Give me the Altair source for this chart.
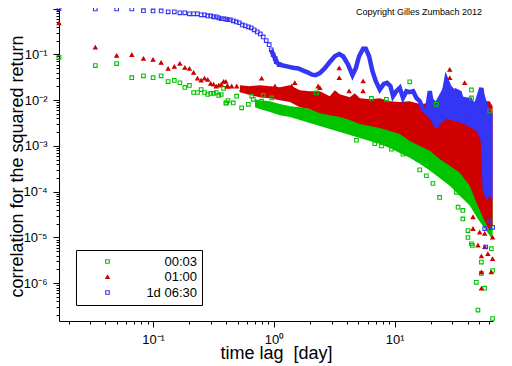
import altair as alt
import pandas as pd

SERIES = ["00:03", "01:00", "1d 06:30"]
COLORS = ["#00c400", "#d00000", "#3535f5"]
SHAPES = ["square", "triangle-up", "square"]
FILLS = ["transparent", "#c00000", "transparent"]

# lags (days) of the first, well separated points
early_lags = [0.01667, 0.0333, 0.05, 0.0667, 0.0833, 0.1, 0.1167, 0.1333, 0.15, 0.1667,
              0.1833, 0.2, 0.2167, 0.2333, 0.25, 0.2667, 0.2833, 0.3, 0.3167, 0.3333,
              0.35, 0.3667, 0.3833, 0.4, 0.4167]
green_early = [0.086, 0.057, 0.063, 0.031, 0.034, 0.031, 0.034, 0.0255, 0.027, 0.024,
               0.019, 0.021, 0.0147, 0.0147, 0.017, 0.0147, 0.0133, 0.014, 0.014, 0.0147,
               0.0127, 0.0133, 0.018, 0.0086, 0.0098]
red_early = [0.48, 0.142, 0.094, 0.098, 0.081, 0.077, 0.066, 0.049, 0.054, 0.063,
             0.051, 0.049, 0.040, 0.030, 0.027, 0.030, 0.028, 0.023, 0.022, 0.020,
             0.021, 0.022, 0.0255, 0.0255, 0.020]
blue_early = [1.0, 0.98, 0.98, 0.98, 0.90, 0.89, 0.89, 0.85, 0.85, 0.81,
              0.81, 0.77, 0.77, 0.77, 0.73, 0.73, 0.69, 0.69, 0.66, 0.66,
              0.63, 0.60, 0.60, 0.59, 0.57]
blue_more_lags = [0.436, 0.461, 0.488, 0.517, 0.547, 0.579, 0.614, 0.649, 0.687, 0.728,
                  0.771, 0.816, 0.864, 0.914, 0.951, 0.986, 1.025, 1.045, 1.106]
blue_more = [0.57, 0.54, 0.51, 0.49, 0.44, 0.42, 0.40, 0.38, 0.344, 0.31,
             0.28, 0.24, 0.20, 0.163, 0.126, 0.098, 0.081, 0.069, 0.060]

# isolated points outside the dense clouds
green_sc_lag = [0.406, 0.461, 0.492, 0.541, 0.614, 0.675, 0.655, 0.791, 0.817, 0.87,
                0.958, 1.16, 2.25, 6.41, 8.53, 13.3, 43.1, 43.1, 61.0, 22.1,
                4.82, 6.83, 7.77, 9.40, 11.7, 15.6, 16.1, 18.3, 20.7, 23.5,
                32.4, 33.4, 36.6, 40.3, 43.1, 47.3, 48.8, 52.1, 52.1, 55.5,
                62.9, 64.5, 64.5, 36.6, 40.3, 43.9]
green_sc_corr = [0.0087, 0.0087, 0.0122, 0.0068, 0.0081, 0.0104, 0.0122, 0.0095, 0.0127, 0.0074,
                 0.0112, 0.0058, 0.0144, 0.0109, 0.0104, 0.0252, 0.0167, 0.0112, 0.0058, 0.0081,
                 0.00133, 0.00112, 0.0010, 0.00085, 0.00066, 0.00051, 0.0003, 0.000223, 0.000151, 7.5e-5,
                 9.7e-5, 4.6e-5, 2.55e-5, 1.0e-5, 7.3e-6, 1.05e-6, 2.6e-7, 2.9e-6, 1.65e-6, 7.8e-7,
                 5.7e-6, 1.9e-6, 1.7e-7, 3.9e-5, 1.42e-5, 6.7e-6]
red_sc_lag = [0.409, 0.447, 0.492, 0.541, 0.595, 0.634, 0.72, 0.791, 0.843, 0.958,
              1.02, 1.09, 1.23, 1.40, 1.49, 2.32, 2.40, 3.47, 3.47, 4.19,
              5.47, 5.47, 28.5, 28.5, 37.9, 44.4, 44.4, 48.8, 50.4, 52.1,
              52.1, 52.1, 55.5, 55.5, 59.0, 62.9, 64.5, 64.5]
red_sc_corr = [0.0201, 0.0201, 0.0201, 0.0171, 0.0163, 0.0180, 0.0151, 0.0297, 0.0171, 0.0180,
               0.0201, 0.0144, 0.0122, 0.0201, 0.0238, 0.0201, 0.0185, 0.050, 0.0305, 0.0157,
               0.0259, 0.0157, 0.0465, 0.0305, 0.0238, 1.55e-5, 2.8e-5, 6.7e-6, 1.3e-5, 3.9e-6,
               1.76e-6, 7.7e-7, 6.2e-6, 1.22e-5, 4.4e-6, 1.76e-6, 3.4e-6, 1.0e-5]
blue_sc_lag = [55.5, 61.0, 56.5, 64.5]
blue_sc_corr = [1.57e-5, 2.3e-5, 6.2e-6, 1.67e-5]

# dense clouds: upper / lower envelopes
red_band_lag = [0.524, 0.633, 0.766, 0.927, 1.12, 1.36, 1.64, 1.98, 2.40, 2.90,
                3.19, 3.51, 4.25, 4.67, 5.14, 6.21, 7.52, 9.09, 11.0, 13.3,
                16.1, 19.5, 23.5, 28.5, 34.5, 41.7, 48.5, 55.4, 61.0, 64.5]
red_band_hi = [0.0212, 0.0201, 0.0212, 0.0201, 0.0192, 0.0212, 0.0165, 0.0157, 0.0157, 0.0122,
               0.0165, 0.0135, 0.0116, 0.0142, 0.0110, 0.0105, 0.0110, 0.0095, 0.0091, 0.0095,
               0.0082, 0.0086, 0.0095, 0.0105, 0.0095, 0.0086, 0.0095, 0.0095, 0.0095, 0.0074]
red_band_lo = [0.0149, 0.0129, 0.0116, 0.0110, 0.0100, 0.0091, 0.0070, 0.0064, 0.0052, 0.0047,
               0.0045, 0.0043, 0.0037, 0.00333, 0.0030, 0.00272, 0.00246, 0.00212, 0.00182, 0.00128,
               0.00100, 0.00078, 0.00052, 0.00037, 0.00026, 0.000135, 5.0e-5, 2.3e-5, 1.42e-5, 1.8e-5]
green_band_lag = [0.697, 0.766, 0.927, 1.12, 1.36, 1.64, 1.98, 2.40, 2.90, 3.51,
                  4.25, 5.14, 6.21, 7.52, 9.09, 11.0, 13.3, 16.1, 19.5, 23.5,
                  28.5, 34.5, 41.7, 48.5, 55.4, 61.0, 64.5]
green_band_hi = [0.0105, 0.0100, 0.0095, 0.0082, 0.0074, 0.0070, 0.0064, 0.0058, 0.0052, 0.0047,
                 0.0041, 0.0035, 0.0030, 0.00259, 0.00223, 0.00192, 0.00157, 0.00128, 0.00100, 0.00078,
                 0.00058, 0.00041, 0.00026, 0.00017, 0.000105, 8.2e-5, 6.4e-5]
green_band_lo = [0.0070, 0.0064, 0.0055, 0.0047, 0.0043, 0.0037, 0.00316, 0.00272, 0.00234, 0.00201,
                 0.00173, 0.00149, 0.00128, 0.00110, 0.00090, 0.00070, 0.00055, 0.00041, 0.00029, 0.00020,
                 0.000135, 8.2e-5, 5.0e-5, 2.6e-5, 1.57e-5, 1.1e-5, 8.6e-6]
blue_band_lag = [18.7, 21.8, 26.9, 31.3, 35.8, 41.7, 47.6, 51.4, 53.4, 57.6, 61.0, 64.5]
blue_band_hi = [0.0142, 0.0095, 0.0259, 0.0173, 0.0122, 0.0110, 0.0086, 0.0157, 0.0173, 0.0095, 0.0058, 0.0052]
blue_band_lo = [0.0045, 0.00246, 0.0039, 0.0035, 0.00316, 0.00259, 0.00212, 0.00128, 0.000105, 6.4e-5, 8.2e-5, 6.4e-5]

# the 1d 06:30 curve once its points merge into a line
blue_line_lag = [0.951, 0.986, 1.025, 1.045, 1.106, 1.19, 1.31, 1.44, 1.59, 1.75,
                 1.92, 2.07, 2.21, 2.40, 2.64, 2.90, 3.19, 3.47, 3.74, 4.11,
                 4.47, 4.76, 5.07, 5.47, 5.76, 6.13, 6.54, 6.97, 7.52, 8.11,
                 8.63, 9.21, 9.68, 10.3, 11.0, 11.7, 12.5, 13.3, 14.2, 15.1,
                 16.1, 17.1, 18.3, 19.5, 20.7, 22.1, 23.5, 25.1, 26.7, 28.5,
                 30.3, 32.4, 34.5, 36.6, 39.1, 41.7, 44.4, 47.3, 52.1, 55.5,
                 59.0, 62.9]
blue_line_corr = [0.126, 0.098, 0.081, 0.069, 0.060, 0.057, 0.054, 0.051, 0.049, 0.044,
                  0.040, 0.036, 0.035, 0.039, 0.050, 0.068, 0.091, 0.102, 0.091, 0.060,
                  0.035, 0.050, 0.091, 0.133, 0.133, 0.091, 0.043, 0.026, 0.017, 0.0226,
                  0.0238, 0.0201, 0.0122, 0.0157, 0.0185, 0.0112, 0.0157, 0.015, 0.0157, 0.0112,
                  0.0095, 0.0063, 0.0053, 0.0157, 0.0058, 0.0025, 0.0068, 0.0112, 0.0282, 0.0185,
                  0.0068, 0.0157, 0.0144, 0.0081, 0.0049, 0.0112, 0.0035, 0.0081, 0.0185, 0.0049,
                  0.0041, 0.0045]

X_TICKS = [float(f"{m}e{e}") for e in range(-2, 2) for m in range(1, 10)
           if 0.01667 <= float(f"{m}e{e}") <= 65]
Y_TICKS = [float(f"{m}e{e}") for e in range(-7, 1) for m in range(1, 10)
           if 1.5e-7 <= float(f"{m}e{e}") <= 1.03]

rows = []
for lag, v in zip(early_lags + green_sc_lag, green_early + green_sc_corr):
    rows.append((SERIES[0], lag, v))
for lag, v in zip(early_lags + red_sc_lag, red_early + red_sc_corr):
    rows.append((SERIES[1], lag, v))
for lag, v in zip(early_lags + blue_more_lags + blue_sc_lag, blue_early + blue_more + blue_sc_corr):
    rows.append((SERIES[2], lag, v))
points = pd.DataFrame(rows, columns=["series", "lag", "corr"])

green_band = pd.DataFrame({"lag": green_band_lag, "hi": green_band_hi, "lo": green_band_lo})
red_band = pd.DataFrame({"lag": red_band_lag, "hi": red_band_hi, "lo": red_band_lo})
blue_band = pd.DataFrame({"lag": blue_band_lag, "hi": blue_band_hi, "lo": blue_band_lo})
blue_line = pd.DataFrame({"lag": blue_line_lag, "corr": blue_line_corr})

xscale = alt.Scale(type="log", domain=[0.01667, 65], nice=False)
yscale = alt.Scale(type="log", domain=[1.5e-7, 1.03], nice=False)

x_axis = alt.Axis(
    values=X_TICKS,
    labelExpr="datum.value == 0.1 ? '10⁻¹' : datum.value == 1 ? '10⁰' : datum.value == 10 ? '10¹' : ''",
    tickSize={"condition": {"test": "indexof([0.1, 1, 10], datum.value) >= 0", "value": 6}, "value": 3},
    labelPadding=6, labelOverlap=False, labelFlush=False,
    title="time lag\u00a0 [day]", titleFontSize=18, titleFontWeight="normal",
    titleX=217, titleY=37, titleBaseline="alphabetic", titleAlign="center",
)
y_axis = alt.Axis(
    values=Y_TICKS,
    labelExpr=("datum.value == 0.1 ? '10⁻¹' : datum.value == 0.01 ? '10⁻²' : "
               "datum.value == 0.001 ? '10⁻³' : datum.value == 0.0001 ? '10⁻⁴' : "
               "datum.value == 0.00001 ? '10⁻⁵' : datum.value == 0.000001 ? '10⁻⁶' : ''"),
    tickSize={"condition": {"test": "indexof([1, 0.1, 0.01, 0.001, 0.0001, 0.00001, 0.000001], datum.value) >= 0",
                            "value": 6}, "value": 3},
    labelPadding=6, labelOverlap=False, labelFlush=False,
    title="correlation for the squared return", titleFontSize=18, titleFontWeight="normal",
    titleX=-37, titleY=158, titleAngle=270, titleBaseline="alphabetic", titleAlign="center",
)

X = alt.X("lag:Q", scale=xscale, axis=x_axis)


def band(df, color):
    return alt.Chart(df).mark_area(color=color, opacity=1, clip=True).encode(
        x=X, y=alt.Y("hi:Q", scale=yscale, axis=y_axis), y2="lo:Q")


green_area = band(green_band, COLORS[0])
red_area = band(red_band, COLORS[1])
blue_area = band(blue_band, COLORS[2])

line = alt.Chart(blue_line).mark_line(color=COLORS[2], strokeWidth=4.5, clip=True).encode(
    x=X, y=alt.Y("corr:Q", scale=yscale, axis=y_axis))

leg = alt.Legend(title=None)
pts = alt.Chart(points).mark_point(filled=False, size=13, strokeWidth=1.1, opacity=1).encode(
    x=X,
    y=alt.Y("corr:Q", scale=yscale, axis=y_axis),
    color=alt.Color("series:N", scale=alt.Scale(domain=SERIES, range=COLORS), legend=leg),
    shape=alt.Shape("series:N", scale=alt.Scale(domain=SERIES, range=SHAPES), legend=leg),
    fill=alt.Fill("series:N", scale=alt.Scale(domain=SERIES, range=FILLS), legend=leg),
)

copyright = alt.Chart(pd.DataFrame({"t": ["Copyright Gilles Zumbach 2012"]})).mark_text(
    fontSize=9, align="center", baseline="alphabetic", color="black"
).encode(text="t:N", x=alt.value(360), y=alt.value(7))

chart = alt.layer(green_area, red_area, blue_area, line, pts, copyright).properties(
    width=434, height=313, autosize="none",
    padding={"left": 51, "top": 0, "right": 11, "bottom": 45},
).configure(font="Liberation Sans").configure_view(stroke=None).configure_axis(
    grid=False, domainColor="black", tickColor="black", labelColor="black", titleColor="black",
    labelFontSize=13, labelFont="Liberation Sans", titleFont="Liberation Sans", domainWidth=1, tickWidth=1,
).configure_legend(
    orient="none", legendX=17, legendY=242, padding=5, strokeColor="black", fillColor="white",
    symbolOffset=20, labelOffset=83, labelAlign="right", labelFontSize=13, labelFont="Liberation Sans",
    labelColor="black", rowPadding=1.5, symbolSize=13, symbolStrokeWidth=1.1, labelLimit=300,
    titlePadding=0,
)

chart.save("out.html", embed_options={"renderer": "svg", "actions": False})
